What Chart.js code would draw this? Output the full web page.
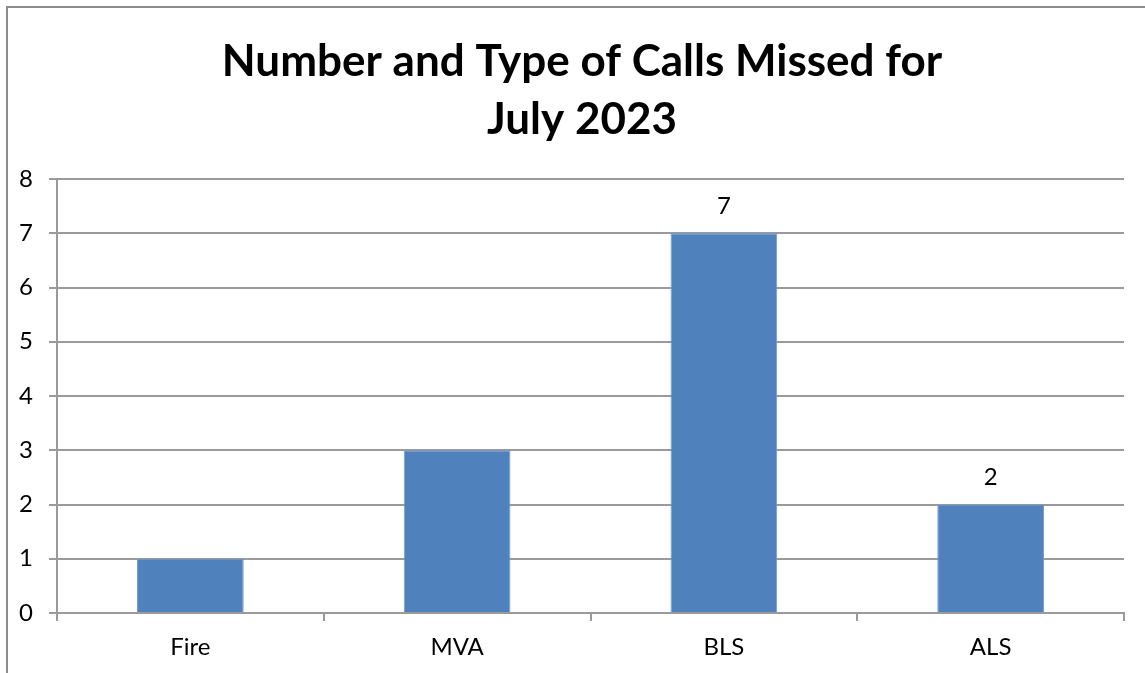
<!DOCTYPE html>
<html>
<head>
<meta charset="utf-8">
<script src="https://cdn.jsdelivr.net/npm/chart.js@4.4.0/dist/chart.umd.min.js"></script>
<style>
  html, body { margin: 0; padding: 0; background: #fff; overflow: hidden; }
  #frame { position: absolute; left: 6px; top: 6px; width: 1300px; height: 900px; border: 2px solid #8c8c8c; }
  #wrap { position: absolute; left: 0; top: 0; width: 1145px; height: 673px; }
</style>
</head>
<body>
<div id="frame"></div>
<div id="wrap"><canvas id="chart" width="1145" height="673"></canvas></div>
<script>
// chart data
let categories = ["Fire", "MVA", "BLS", "ALS"];
let callsMissed = [1, 3, 7, 2];
let showValue = [false, false, true, true];
let yTicks = [0, 1, 2, 3, 4, 5, 6, 7, 8];
let titleLines = ["Number and Type of Calls Missed for", "July 2023"];

let fontName = "Lato, 'Open Sans', sans-serif";
let gridColor = "#9a9a9a";

// title is centred on the whole frame (which runs past the window), not the plot
const frameTitle = {
  id: "frameTitle",
  afterDraw(chart) {
    let ctx = chart.ctx;
    ctx.save();
    ctx.font = "bold 44px " + fontName;
    ctx.fillStyle = "#000";
    ctx.textAlign = "center";
    ctx.textBaseline = "middle";
    titleLines.forEach((line, i) => {
      ctx.fillText(line, 582, 62 + i * 58);
    });
    ctx.restore();
  }
};

// draws the value above the bars that have one in the original
const valueLabels = {
  id: "valueLabels",
  afterDatasetsDraw(chart) {
    let ctx = chart.ctx;
    let meta = chart.getDatasetMeta(0);
    ctx.save();
    ctx.font = "24px " + fontName;
    ctx.fillStyle = "#000";
    ctx.textAlign = "center";
    ctx.textBaseline = "middle";
    meta.data.forEach((bar, i) => {
      if (!showValue[i]) return;
      ctx.fillText(String(callsMissed[i]), bar.x, bar.y - 27);
    });
    ctx.restore();
  }
};

new Chart(document.getElementById("chart"), {
  type: "bar",
  data: {
    labels: categories,
    datasets: [{
      data: callsMissed,
      backgroundColor: "#4f81bd",
      borderColor: "#7399cc",
      borderWidth: 1,
      barPercentage: 0.4,
      categoryPercentage: 1
    }]
  },
  options: {
    responsive: false,
    animation: false,
    layout: { padding: { left: 0, right: 21, top: 179, bottom: 0 } },
    plugins: {
      legend: { display: false },
      tooltip: { enabled: false },
      title: { display: false }
    },
    scales: {
      x: {
        offset: true,
        grid: { display: true, drawOnChartArea: false, drawTicks: true, tickLength: 8, color: gridColor, lineWidth: 2, offset: true },
        border: { display: true, color: gridColor, width: 2 },
        ticks: { color: "#000", font: { family: fontName, size: 24 }, padding: 12 },
        afterFit(scale) { scale.height = 60; }
      },
      y: {
        min: 0,
        max: 8,
        afterBuildTicks(scale) { scale.ticks = yTicks.map(v => ({ value: v })); },
        grid: { color: gridColor, lineWidth: 2, tickLength: 8 },
        border: { display: true, color: gridColor, width: 2 },
        ticks: { color: "#000", font: { family: fontName, size: 24 }, padding: 16 },
        afterFit(scale) { scale.width = 57; }
      }
    }
  },
  plugins: [valueLabels, frameTitle]
});
</script>
</body>
</html>
